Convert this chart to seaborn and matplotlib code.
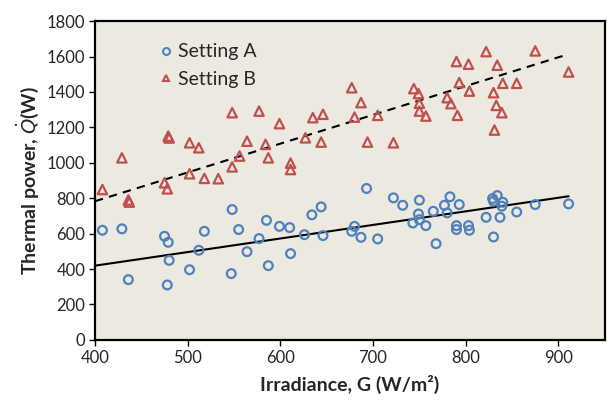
import numpy as np
import pandas as pd
import matplotlib
matplotlib.use("Agg")
import matplotlib.pyplot as plt
import seaborn as sns
from matplotlib.lines import Line2D

# Setting A (circles)
a_irr = [408, 429, 436, 475, 479, 480, 478, 502, 512, 518, 548, 547, 555, 564, 577,
         587, 585, 599, 610, 611, 626, 634, 644, 646, 677, 680, 687, 693, 705, 722,
         732, 750, 749, 743, 750, 757, 765, 768, 777, 783, 780, 793, 790, 790, 803,
         804, 822, 829, 834, 830, 840, 839, 837, 830, 855, 875, 911]
a_pow = [619, 627, 340, 585, 551, 449, 310, 396, 506, 613, 736, 374, 623, 498, 572,
         419, 675, 641, 634, 487, 594, 706, 751, 589, 613, 641, 579, 855, 570, 802,
         760, 789, 711, 660, 679, 645, 726, 543, 760, 808, 717, 764, 645, 623, 645,
         619, 692, 798, 815, 783, 777, 755, 692, 581, 722, 764, 768]

# Setting B (triangles)
b_irr = [408, 429, 436, 437, 475, 478, 479, 480, 502, 502, 512, 518, 533, 548, 548,
         556, 564, 577, 584, 587, 599, 611, 611, 627, 635, 646, 644, 677, 687, 680,
         705, 694, 722, 744, 749, 750, 750, 757, 780, 784, 791, 790, 803, 793, 804,
         822, 834, 840, 830, 833, 839, 831, 855, 875, 911]
b_pow = [849, 1028, 790, 778, 887, 853, 1151, 1140, 1113, 938, 1085, 912, 910, 1283, 977,
         1038, 1122, 1292, 1104, 1028, 1221, 998, 962, 1141, 1255, 1274, 1117, 1424, 1340, 1258,
         1268, 1117, 1113, 1419, 1391, 1336, 1292, 1264, 1368, 1334, 1268, 1572, 1557, 1453, 1405,
         1628, 1551, 1449, 1396, 1324, 1283, 1185, 1449, 1632, 1513]

# Linear trendlines (start / end)
trend_a_x = [400, 911]
trend_a_y = [419, 811]
trend_b_x = [400, 905]
trend_b_y = [783, 1604]

x_ticks = [400, 500, 600, 700, 800, 900]
y_ticks = [0, 200, 400, 600, 800, 1000, 1200, 1400, 1600, 1800]
series_labels = ["Setting A", "Setting B"]

blue = "#4F81BD"
red = "#C0504D"
bg = "#ECEAE0"

sns.set_theme(style="ticks")
plt.rcParams['font.family'] = ['Lato', 'DejaVu Sans']
plt.rcParams['mathtext.fontset'] = 'dejavusans'

dfa = pd.DataFrame({"G": a_irr, "Q": a_pow})
dfb = pd.DataFrame({"G": b_irr, "Q": b_pow})

fig = plt.figure(figsize=(6.09, 4.07), dpi=100)
ax = fig.add_axes([0.156, 0.165, 0.837, 0.783])
ax.set_facecolor(bg)

sns.scatterplot(data=dfa, x="G", y="Q", ax=ax, marker="o", s=40,
                facecolors="none", edgecolor=blue, linewidth=1.6, zorder=3)
sns.scatterplot(data=dfb, x="G", y="Q", ax=ax, marker="^", s=46,
                facecolors="none", edgecolor=red, linewidth=1.6, zorder=3)

sns.lineplot(x=trend_a_x, y=trend_a_y, ax=ax, color="black", linestyle="-",
             linewidth=1.5, zorder=2)
sns.lineplot(x=trend_b_x, y=trend_b_y, ax=ax, color="black", linestyle=(0, (4, 3)),
             linewidth=1.5, zorder=2)

ax.set_xlim(400, 950)
ax.set_ylim(0, 1800)
ax.set_xticks(x_ticks)
ax.set_yticks(y_ticks)
ax.tick_params(axis="both", labelsize=12, length=4, width=1, color="black",
               direction="out", pad=3)
for s in ax.spines.values():
    s.set_color("black")
    s.set_linewidth(1.6)

ax.set_xlabel("Irradiance, G (W/m²)", fontsize=14, fontweight="bold", labelpad=7)
ax.set_ylabel(r"Thermal power, $\dot{Q}$(W)", fontsize=14, fontweight="bold", labelpad=4)

handles = [
    Line2D([], [], marker="o", linestyle="none", markersize=5, markerfacecolor="none",
           markeredgecolor=blue, markeredgewidth=1.5),
    Line2D([], [], marker="^", linestyle="none", markersize=5, markerfacecolor="none",
           markeredgecolor=red, markeredgewidth=1.5),
]
ax.legend(handles, series_labels, loc="upper left",
          bbox_to_anchor=(0.085, 0.985), frameon=False, fontsize=14,
          handletextpad=0.15, labelspacing=0.55, handlelength=1.0)

fig.savefig("out.png", dpi=100)
